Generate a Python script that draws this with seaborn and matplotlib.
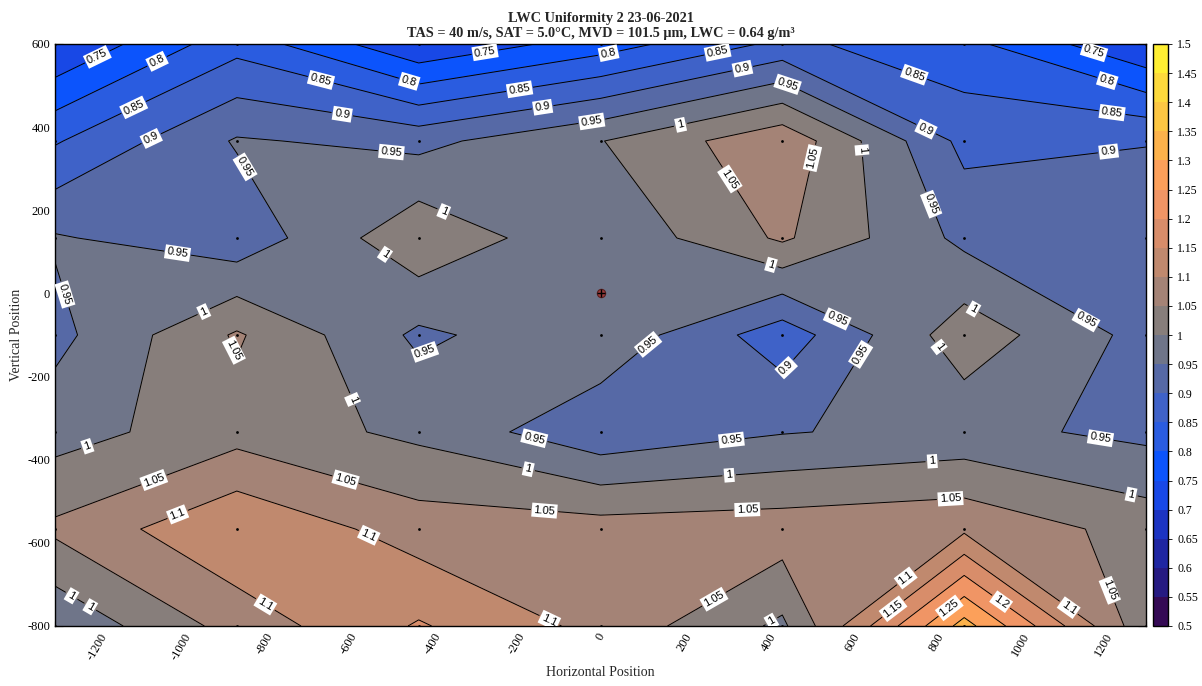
import numpy as np
import matplotlib
matplotlib.use("Agg")
import matplotlib.pyplot as plt
from matplotlib.colors import ListedColormap, BoundaryNorm
from matplotlib.ticker import MultipleLocator
import seaborn as sns

# Measurement grid (traverse positions)
x_positions = [-1300, -866.7, -433.3, 0, 433.3, 866.7, 1300]
y_positions = [600, 366.7, 133.3, -100, -333.3, -566.7, -800]

# Normalised LWC at each grid row (top to bottom)
lwc_y600 = [0.700, 0.832, 0.705, 0.775, 0.862, 0.815, 0.702]
lwc_y367 = [0.845, 0.955, 0.935, 0.998, 1.088, 0.885, 0.898]
lwc_y133 = [0.955, 0.915, 1.040, 0.958, 1.058, 0.937, 0.930]
lwc_ym100 = [0.935, 1.056, 0.940, 0.988, 0.871, 1.030, 0.932]
lwc_ym333 = [0.979, 1.030, 0.988, 0.912, 0.947, 0.965, 0.937]
lwc_ym567 = [1.060, 1.145, 1.076, 1.073, 1.078, 1.090, 1.030]
lwc_ym800 = [0.958, 1.070, 1.155, 1.085, 0.990, 1.320, 1.013]

# Tunnel centre
center_x = [0]
center_y = [0]

levels = np.round(np.arange(0.5, 1.5001, 0.05), 2)
band_colors = [
    '#350a55', '#261a82', '#1f26a2', '#1c34c2', '#1848e6',
    '#0c54fc', '#2a5ce0', '#3f62c8', '#5669a6', '#6f7589',
    '#877e7b', '#a48376', '#c0896e', '#d88d6a', '#f09565',
    '#fca05a', '#fcb24b', '#fcc643', '#fdd93c', '#ffef33',
]

# Where the isoline labels go (each snaps to the nearest isoline)
label_anchors = [
    (-1201, 573), (-1058, 561), (-1115, 453), (-1075, 382), (-665, 518),
    (-455, 513), (-615, 434), (-498, 343), (-276, 586), (-193, 492),
    (-138, 449), (-21, 415), (19, 579), (279, 581), (338, 542),
    (443, 497), (191, 405), (300, 270), (503, 326), (622, 345),
    (753, 540), (777, 398), (789, 215), (1170, 561), (1208, 513),
    (1220, 441), (1208, 366), (-1008, 97), (-851, 302), (-348, 259),
    (-515, 92), (405, 64), (-1265, 1), (-944, -47), (-867, -134),
    (-412, -153), (-593, -256), (117, -127), (443, -179), (562, -66),
    (622, -148), (898, -21), (791, -141), (1161, -57), (-1223, -367),
    (-1070, -434), (-605, -439), (-157, -345), (305, -290), (-172, -422),
    (307, -441), (791, -408), (1192, -345), (1263, -490), (-133, -516),
    (350, -526), (834, -492), (-1008, -531), (-551, -579), (-1201, -728),
    (-1258, -723), (-798, -747), (-117, -776), (269, -733), (403, -781),
    (727, -684), (696, -757), (837, -764), (951, -747), (1115, -757),
    (1204, -718),
]

sns.set_style("ticks")
plt.rcParams['font.family'] = ['Liberation Serif', 'DejaVu Serif']
plt.rcParams['axes.unicode_minus'] = False
plt.rcParams['axes.edgecolor'] = 'black'
plt.rcParams['xtick.color'] = 'black'
plt.rcParams['ytick.color'] = 'black'

W, H = 1202, 686
fig = plt.figure(figsize=(W / 100, H / 100), dpi=100)
ax = fig.add_axes([55 / W, 1 - 626 / H, 1091 / W, 582 / H])
cax = fig.add_axes([1153 / W, 1 - 626 / H, 15 / W, 582 / H])

Z = np.array([lwc_y600, lwc_y367, lwc_y133, lwc_ym100, lwc_ym333, lwc_ym567, lwc_ym800])
X, Y = np.meshgrid(x_positions, y_positions)

cmap = ListedColormap(band_colors)
norm = BoundaryNorm(levels, cmap.N)
cf = ax.contourf(X, Y, Z, levels=levels, cmap=cmap, norm=norm)
cs = ax.contour(X, Y, Z, levels=levels, colors='black', linewidths=0.7)
ax.set_xlim(-1300, 1300)
ax.set_ylim(-800, 600)
labels = ax.clabel(cs, fmt='%g', fontsize=8, inline=True, inline_spacing=4,
                   manual=label_anchors)
for t in labels:
    t.set_fontfamily('Liberation Sans')
    t.set_bbox(dict(boxstyle='square,pad=0.18', fc='white', ec='none'))

# Measurement points
sns.scatterplot(x=X.ravel(), y=Y.ravel(), color='black', s=4, linewidth=0,
                ax=ax, zorder=3, legend=False)
ax.plot(center_x, center_y, 'o', ms=6, mfc='#9b3c3c', mec='#5a1e1e', mew=0.8, zorder=4)
ax.plot(center_x, center_y, '+', color='black', ms=6, mew=1.0, zorder=5)

ax.set_xlim(-1300, 1300)
ax.set_ylim(-800, 600)
ax.set_xticks(np.arange(-1200, 1201, 200))
ax.set_yticks(np.arange(-800, 601, 200))
ax.xaxis.set_minor_locator(MultipleLocator(50))
ax.yaxis.set_minor_locator(MultipleLocator(50))
ax.tick_params(which='both', direction='in', top=True, right=True,
               labelsize=9, width=0.8)
ax.tick_params(which='major', length=6)
ax.tick_params(which='minor', length=3.5)
for lbl in ax.get_xticklabels():
    lbl.set_rotation(60)
for s in ax.spines.values():
    s.set_linewidth(1.0)
    s.set_color('black')

ax.set_xlabel('Horizontal Position', fontsize=10, labelpad=3)
ax.set_ylabel('Vertical Position', fontsize=10, labelpad=3)
ax.set_title('LWC Uniformity 2 23-06-2021\n'
             'TAS = 40 m/s, SAT = 5.0°C, MVD = 101.5 µm, LWC = 0.64 g/m³',
             fontsize=10.3, fontweight='bold', pad=5, linespacing=1.25)

cb = fig.colorbar(cf, cax=cax, ticks=levels)
cb.ax.set_yticklabels([f'{v:g}' for v in levels])
cb.ax.tick_params(labelsize=8.5, length=3, width=0.6, direction='out')
cb.outline.set_linewidth(1.0)

fig.savefig('out.png', dpi=100)
